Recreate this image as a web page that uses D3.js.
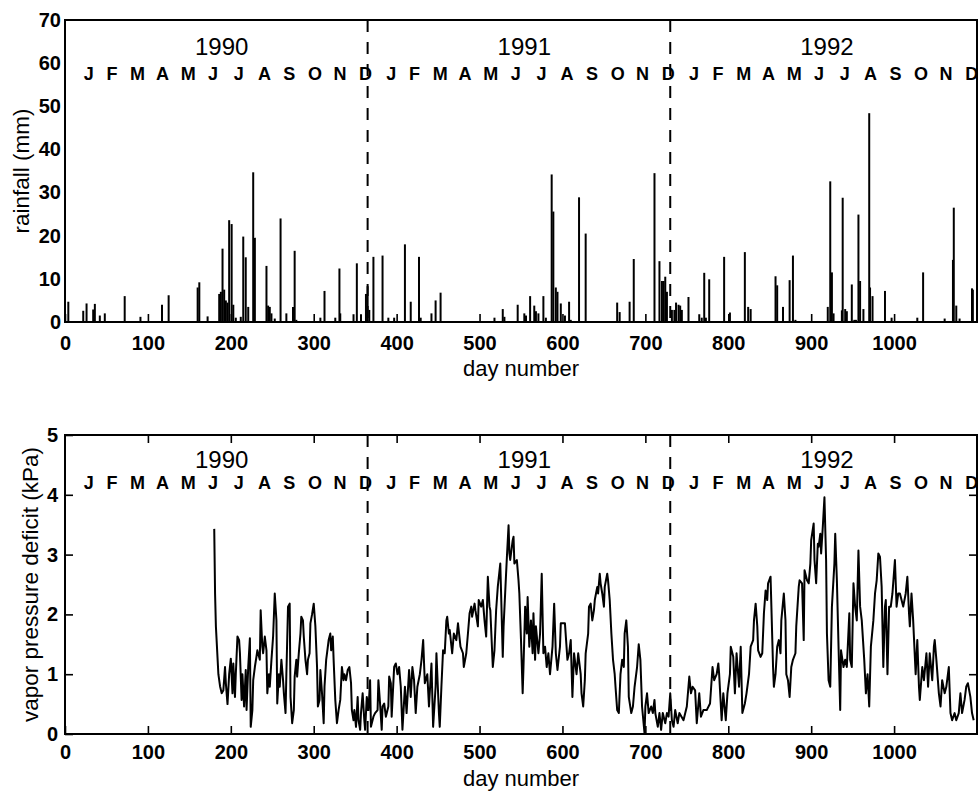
<!DOCTYPE html>
<html>
<head>
<meta charset="utf-8">
<script src="https://cdn.jsdelivr.net/npm/d3@7"></script>
<style>
  html, body { margin: 0; padding: 0; background: #fff; }
  svg text { font-family: 'Liberation Sans', Arial, Helvetica, sans-serif; fill: #000; }
</style>
</head>
<body>
<div id="chart"></div>
<script>
// daily rainfall (mm)
const rainDay = [4, 22, 26, 34, 36, 42, 48, 72, 91, 117, 125, 160, 162, 172, 186, 188, 190, 192, 194, 196,
  198, 201, 203, 206, 212, 215, 218, 221, 227, 229, 243, 245, 247, 249, 253, 260, 267, 275, 277, 279,
  308, 313, 326, 331, 332, 348, 352, 357, 363, 365, 367, 372, 383, 390, 397, 410, 417, 427, 429, 442,
  447, 453, 518, 528, 530, 546, 554, 556, 561, 566, 568, 571, 577, 580, 587, 589, 592, 594, 598, 603,
  608, 610, 620, 628, 666, 669, 681, 686, 711, 717, 720, 722, 724, 726, 732, 735, 737, 740, 742, 744,
  752, 765, 768, 771, 773, 777, 795, 802, 820, 824, 827, 857, 859, 866, 874, 878, 881, 920, 923, 925,
  927, 937, 938, 941, 943, 949, 952, 954, 957, 959, 963, 970, 971, 974, 989, 997, 1028, 1035, 1061, 1071,
  1072, 1075, 1079, 1094, 1095];
const rainMm = [4.7, 2.6, 4.3, 2.9, 4.2, 1.5, 2, 6, 1.2, 4, 6.2, 8, 9.2, 1.3, 6.5, 7, 17, 7.5, 5, 4.5,
  23.6, 22.7, 4, 1, 1.2, 19.8, 15, 3.5, 34.7, 19.5, 13, 3.8, 3.5, 2, 0.8, 24, 2, 3.5, 16.5, 0.5,
  1, 7.2, 1, 12.4, 2, 1.8, 13.6, 1.8, 6.5, 8.3, 2.8, 15.1, 15.4, 1, 1, 18, 4.7, 15.1, 1, 2,
  5, 6.8, 1, 3, 1.2, 4, 2, 1.5, 6, 3.8, 2.5, 2, 6, 1, 34.2, 25.6, 8, 7, 4.3, 1.5,
  4.7, 0.5, 28.9, 20.5, 4.5, 2.3, 4.7, 14.6, 34.5, 14.1, 9.5, 9.5, 10.5, 7, 2.8, 2.8, 4.5, 4, 3.8, 2.8,
  5.8, 1.8, 1, 11.4, 1, 9.9, 15.1, 2.2, 16.2, 3.5, 3, 10.6, 8.5, 3.5, 9.7, 15.4, 0.5, 3.5, 32.6, 11.5,
  2, 2.7, 28.8, 3, 2.5, 8.7, 0.5, 0.5, 24.9, 9.5, 3, 48.4, 8, 6, 7.2, 1, 1, 11.5, 0.8, 14.4,
  26.5, 3.8, 0.8, 7.8, 7.5];

// vapor pressure deficit (kPa)
const vpdDay = [180, 181, 182, 185, 187, 189, 191, 193, 194, 196, 198, 200, 202, 203, 205, 206, 208, 210, 211, 213,
  214, 216, 218, 219, 221, 223, 224, 226, 227, 229, 231, 232, 235, 236, 238, 239, 241, 243, 244, 246,
  247, 249, 251, 253, 255, 256, 258, 259, 261, 263, 264, 266, 267, 269, 271, 272, 274, 276, 277, 279,
  280, 282, 284, 285, 287, 288, 290, 292, 293, 295, 296, 298, 300, 302, 304, 305, 307, 308, 310, 312,
  313, 315, 316, 318, 320, 321, 323, 324, 326, 328, 330, 332, 334, 336, 337, 339, 341, 343, 345, 346,
  348, 349, 351, 353, 354, 356, 357, 359, 361, 362, 364, 366, 368, 369, 372, 374, 377, 378, 380, 382,
  383, 385, 387, 390, 391, 393, 394, 397, 399, 401, 403, 405, 407, 410, 412, 415, 417, 419, 421, 423,
  425, 428, 430, 432, 434, 437, 439, 442, 444, 447, 448, 451, 452, 454, 456, 458, 460, 461, 463, 464,
  467, 469, 472, 474, 477, 480, 481, 484, 486, 488, 490, 491, 494, 495, 498, 499, 502, 504, 506, 508,
  510, 512, 513, 516, 518, 520, 522, 525, 526, 528, 529, 532, 533, 535, 536, 537, 540, 541, 542, 545,
  547, 548, 550, 552, 553, 555, 557, 558, 560, 562, 564, 565, 567, 568, 571, 573, 575, 577, 579, 581,
  583, 585, 588, 590, 592, 594, 597, 598, 601, 603, 606, 608, 610, 612, 614, 617, 619, 622, 623, 625,
  627, 628, 631, 632, 634, 636, 638, 639, 642, 643, 645, 646, 648, 650, 651, 654, 655, 657, 659, 661,
  663, 664, 666, 668, 670, 672, 674, 675, 677, 679, 680, 683, 685, 687, 690, 692, 694, 696, 699, 700,
  702, 704, 707, 709, 711, 712, 715, 717, 719, 721, 724, 726, 728, 730, 732, 734, 736, 739, 741, 746,
  750, 753, 755, 757, 760, 762, 765, 767, 770, 774, 778, 781, 783, 786, 788, 789, 792, 794, 797, 799,
  802, 803, 806, 808, 810, 813, 815, 817, 820, 822, 825, 827, 830, 831, 833, 835, 836, 839, 841, 843,
  845, 847, 848, 851, 852, 854, 855, 857, 859, 861, 863, 864, 867, 869, 870, 872, 874, 876, 878, 881,
  882, 885, 886, 889, 891, 892, 895, 897, 899, 900, 903, 904, 906, 908, 909, 911, 912, 914, 916, 918,
  919, 921, 923, 925, 928, 929, 931, 933, 935, 936, 939, 941, 943, 946, 947, 949, 951, 953, 955, 957,
  959, 961, 964, 966, 968, 970, 972, 975, 977, 979, 981, 983, 985, 987, 989, 990, 992, 994, 996, 998,
  1001, 1003, 1005, 1007, 1009, 1011, 1014, 1016, 1018, 1019, 1021, 1023, 1026, 1028, 1030, 1031, 1034, 1036, 1039, 1041,
  1043, 1046, 1048, 1049, 1051, 1054, 1056, 1058, 1061, 1063, 1066, 1068, 1070, 1073, 1075, 1078, 1080, 1082, 1085, 1087,
  1089, 1092, 1094, 1096];
const vpdKpa = [3.43, 2.35, 1.8, 1.0, 0.8, 0.68, 0.73, 1.12, 0.85, 0.5, 1.0, 1.26, 0.68, 1.18, 0.62, 1.0, 1.63, 1.57, 1.35, 0.57,
  1.0, 0.46, 1.07, 0.4, 1.12, 1.6, 0.12, 0.4, 0.9, 1.12, 1.3, 1.4, 1.24, 2.07, 1.46, 1.35, 1.63, 1.4, 0.68, 1.0,
  0.79, 1.24, 1.63, 2.35, 1.9, 0.51, 1.0, 0.79, 1.24, 0.9, 0.68, 0.35, 1.0, 2.13, 2.18, 0.62, 0.18, 0.4, 0.96, 1.24,
  0.96, 1.35, 1.68, 1.96, 1.9, 1.63, 1.24, 1.0, 1.24, 1.35, 1.85, 2.0, 2.18, 1.8, 1.12, 0.46, 0.57, 1.07, 0.68, 0.18,
  0.79, 1.24, 1.35, 1.57, 1.68, 1.4, 1.63, 1.24, 0.57, 0.18, 0.4, 0.57, 1.12, 0.9, 1.0, 0.9, 1.07, 1.12, 0.85, 0.4,
  0.23, 0.4, 0.12, 0.62, 0.23, 0.07, 0.35, 0.68, 0.23, 0.07, 0.62, 0.4, 0.9, 0.12, 0.29, 0.35, 0.4, 0.9, 0.51, 0.07,
  0.46, 0.51, 0.29, 0.46, 0.96, 0.85, 0.29, 1.12, 1.18, 1.0, 1.12, 0.79, 0.07, 0.79, 0.35, 1.07, 0.62, 1.12, 0.9, 0.35,
  0.79, 1.0, 1.24, 1.57, 0.85, 1.0, 0.46, 1.18, 0.12, 0.79, 1.35, 0.35, 0.12, 0.79, 1.4, 1.35, 1.9, 1.96, 1.68, 1.74,
  1.35, 1.68, 1.57, 1.85, 1.46, 1.35, 1.12, 1.35, 1.68, 2.02, 2.13, 1.96, 2.18, 2.07, 1.8, 2.24, 2.13, 2.24, 1.9, 1.63,
  2.63, 2.13, 2.07, 1.12, 1.4, 2.07, 2.46, 2.85, 2.35, 1.29, 1.8, 2.68, 2.96, 3.49, 3.02, 2.91, 3.24, 3.3, 2.85, 2.91,
  2.57, 2.35, 1.57, 0.68, 1.12, 2.13, 1.68, 2.29, 1.46, 1.9, 1.35, 2.02, 1.24, 1.8, 1.35, 1.68, 2.68, 1.35, 1.46, 1.12,
  1.35, 1.0, 1.46, 2.18, 1.35, 1.07, 1.46, 1.85, 1.85, 1.85, 1.24, 1.35, 1.57, 0.62, 1.35, 1.0, 1.35, 1.0, 0.68, 0.46,
  0.9, 1.35, 1.68, 2.13, 2.18, 1.9, 2.07, 2.24, 2.46, 2.35, 2.68, 2.52, 2.35, 2.13, 2.46, 2.68, 2.57, 2.24, 1.68, 1.24,
  1.0, 0.79, 0.4, 0.35, 1.0, 1.24, 1.12, 1.68, 1.9, 1.46, 0.62, 0.35, 0.46, 0.79, 1.12, 1.5, 1.24, 0.46, 0.01, 0.46,
  0.68, 0.35, 0.46, 0.35, 0.57, 0.35, 0.12, 0.35, 0.07, 0.35, 0.18, 0.35, 0.29, 0.68, 0.23, 0.12, 0.4, 0.18, 0.35, 0.23,
  0.46, 0.96, 0.68, 0.79, 0.73, 0.18, 0.68, 0.29, 0.4, 0.4, 0.51, 1.12, 0.9, 1.0, 1.18, 1.0, 0.23, 0.68, 0.23, 0.68,
  1.0, 1.46, 1.29, 0.68, 1.35, 0.79, 1.46, 0.35, 0.51, 0.68, 1.0, 1.46, 1.57, 1.9, 2.18, 1.8, 1.4, 1.29, 1.35, 2.02,
  2.4, 2.24, 2.52, 2.63, 2.13, 1.12, 0.79, 1.0, 1.46, 1.57, 1.35, 1.9, 2.35, 1.9, 1.0, 0.9, 0.62, 1.12, 1.24, 1.35,
  1.8, 2.46, 2.57, 2.52, 1.57, 2.74, 2.57, 2.52, 2.85, 3.24, 3.52, 2.91, 2.52, 3.18, 3.13, 3.35, 3.02, 3.46, 3.96, 2.91,
  1.68, 0.9, 0.79, 2.13, 2.85, 3.35, 2.57, 1.46, 0.4, 1.4, 1.12, 1.24, 1.12, 2.02, 1.24, 1.12, 2.52, 2.13, 1.9, 3.07,
  2.13, 1.9, 1.24, 0.68, 1.0, 0.46, 1.46, 1.9, 2.35, 2.57, 3.02, 2.96, 2.46, 1.12, 2.13, 2.24, 1.0, 2.13, 2.13, 2.35,
  2.91, 2.13, 2.35, 2.35, 2.24, 2.13, 2.35, 2.63, 2.02, 1.8, 2.35, 1.9, 1.0, 1.57, 0.79, 0.57, 1.12, 0.9, 1.35, 0.79,
  1.35, 0.9, 1.46, 1.57, 1.24, 0.68, 0.46, 0.9, 0.68, 0.79, 1.12, 0.35, 0.23, 0.35, 0.23, 0.35, 0.68, 0.35, 0.57, 0.79,
  0.85, 0.62, 0.35, 0.23];

const yearLabels = ['1990', '1991', '1992'];
const yearStartDay = [0, 365, 730];
const monthLetters = ['J', 'F', 'M', 'A', 'M', 'J', 'J', 'A', 'S', 'O', 'N', 'D'];
const monthEndDay = [31, 59, 90, 120, 151, 181, 212, 243, 273, 304, 334, 365];
const monthEndDayLeap = [31, 60, 91, 121, 152, 182, 213, 244, 274, 305, 335, 366];
const yearBreakDay = [365, 730];
const dayTicks = [0, 100, 200, 300, 400, 500, 600, 700, 800, 900, 1000];
const rainTicks = [0, 10, 20, 30, 40, 50, 60, 70];
const vpdTicks = [0, 1, 2, 3, 4, 5];

const W = 979, H = 791;
const svg = d3.select('#chart').append('svg').attr('width', W).attr('height', H);

const x = d3.scaleLinear().domain([0, 1100]).range([65, 977]);
const tickFont = 20;

function drawPanel(p) {
  const g = svg.append('g');
  const y = p.y;
  const top = y.range()[1], bottom = y.range()[0];
  const left = x.range()[0], right = x.range()[1];

  p.drawData(g, y);

  // year boundaries
  g.selectAll('line.break').data(yearBreakDay).enter().append('line')
    .attr('x1', d => x(d)).attr('x2', d => x(d))
    .attr('y1', top).attr('y2', bottom)
    .attr('stroke', '#000').attr('stroke-width', 2).attr('stroke-dasharray', '12,10');

  // year and month labels
  yearLabels.forEach((lab, i) => {
    g.append('text')
      .attr('x', x(yearStartDay[i] + 189)).attr('y', top + p.yearOff)
      .attr('text-anchor', 'middle').attr('font-size', 24)
      .text(lab);
    const ends = i === 2 ? monthEndDayLeap : monthEndDay;
    monthLetters.forEach((m, j) => {
      g.append('text')
        .attr('x', x(yearStartDay[i] + ends[j]) - 2).attr('y', top + p.monthOff)
        .attr('text-anchor', 'middle').attr('font-size', 18).attr('font-weight', 'bold')
        .text(m);
    });
  });

  // frame
  g.append('rect')
    .attr('x', left).attr('y', top)
    .attr('width', right - left).attr('height', bottom - top)
    .attr('fill', 'none').attr('stroke', '#000').attr('stroke-width', 2);

  const xAxis = g.append('g').attr('transform', `translate(0,${bottom})`)
    .call(d3.axisBottom(x).tickValues(dayTicks).tickFormat(d3.format('d'))
      .tickSize(-8).tickSizeOuter(0).tickPadding(p.xPad));
  const yAxis = g.append('g').attr('transform', `translate(${left},0)`)
    .call(d3.axisLeft(y).tickValues(p.ticks).tickFormat(d3.format('d'))
      .tickSize(p.boxTicks ? -8 : 0).tickSizeOuter(0).tickPadding(p.boxTicks ? 7 : 4));

  if (p.boxTicks) {
    g.append('g').attr('transform', `translate(0,${top})`)
      .call(d3.axisTop(x).tickValues(dayTicks.slice(1)).tickSize(-8).tickSizeOuter(0).tickFormat(''));
    g.append('g').attr('transform', `translate(${right},0)`)
      .call(d3.axisRight(y).tickValues(p.ticks.slice(1, -1)).tickSize(-8).tickSizeOuter(0).tickFormat(''));
  }

  g.selectAll('.domain').remove();
  g.selectAll('.tick line').attr('stroke', '#000').attr('stroke-width', 1.6);
  [xAxis, yAxis].forEach(a => a.selectAll('.tick text')
    .attr('fill', '#000').attr('font-size', tickFont).attr('font-weight', 'bold')
    .attr('font-family', "'Liberation Sans', Arial, sans-serif"));

  g.append('text')
    .attr('x', (left + right) / 2).attr('y', bottom + p.xLabelOff)
    .attr('text-anchor', 'middle').attr('font-size', 22)
    .text('day number');

  g.append('text')
    .attr('transform', `translate(${p.labelX},${(top + bottom) / 2}) rotate(-90)`)
    .attr('text-anchor', 'middle').attr('font-size', 22.5)
    .text(p.label);
}

// upper panel: rainfall spikes
drawPanel({
  y: d3.scaleLinear().domain([0, 70]).range([322, 20]),
  ticks: rainTicks,
  boxTicks: false,
  yearOff: 35,
  monthOff: 60,
  xPad: 13.5,
  xLabelOff: 54,
  labelX: 29,
  label: 'rainfall (mm)',
  drawData: (g, y) => {
    g.append('g').selectAll('line')
      .data(rainDay.map((d, i) => ({ day: d, mm: rainMm[i] })))
      .enter().append('line')
      .attr('x1', d => x(d.day)).attr('x2', d => x(d.day))
      .attr('y1', y(0)).attr('y2', d => y(d.mm))
      .attr('stroke', '#000').attr('stroke-width', 2);
  }
});

// lower panel: vapor pressure deficit
drawPanel({
  y: d3.scaleLinear().domain([0, 5]).range([734, 435]),
  ticks: vpdTicks,
  boxTicks: true,
  yearOff: 33,
  monthOff: 54,
  xPad: 11,
  xLabelOff: 52,
  labelX: 38,
  label: 'vapor pressure deficit (kPa)',
  drawData: (g, y) => {
    const line = d3.line().x(d => x(d[0])).y(d => y(d[1]));
    g.append('path')
      .datum(vpdDay.map((d, i) => [d, vpdKpa[i]]))
      .attr('d', line)
      .attr('fill', 'none').attr('stroke', '#000')
      .attr('stroke-width', 2).attr('stroke-linejoin', 'round');
  }
});
</script>
</body>
</html>
